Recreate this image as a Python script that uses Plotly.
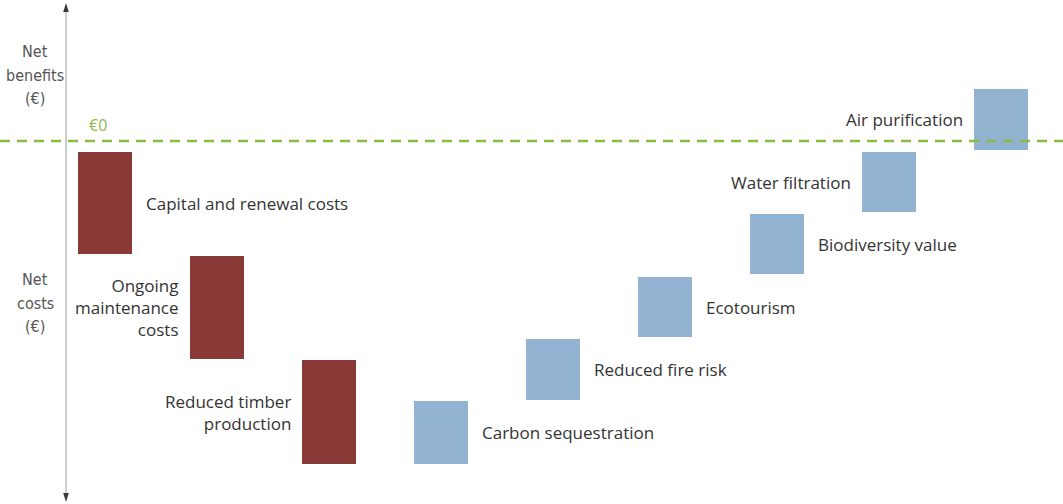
import plotly.graph_objects as go

# waterfall steps, values in arbitrary € units (0 = break-even line)
categories = [
    "Capital and renewal costs",
    "Ongoing<br>maintenance<br>costs",
    "Reduced timber<br>production",
    "Carbon sequestration",
    "Reduced fire risk",
    "Ecotourism",
    "Biodiversity value",
    "Water filtration",
    "Air purification",
]
tops = [-1.1, -11.5, -21.9, -26.0, -19.8, -13.6, -7.3, -1.1, 5.2]
bottoms = [-11.3, -21.8, -32.3, -32.3, -25.9, -19.6, -13.3, -7.1, -0.9]
kinds = ["cost", "cost", "cost", "benefit", "benefit", "benefit", "benefit", "benefit", "benefit"]
label_side = ["right", "left", "left", "right", "right", "right", "right", "left", "left"]
axis_labels = ["Net<br>benefits<br>(€)", "Net<br>costs<br>(€)"]

COLORS = {"cost": "#893a36", "benefit": "#91b3d1"}
W, H = 1063, 504
TEXT = "#333333"

x = list(range(len(categories)))
heights = [t - b for t, b in zip(tops, bottoms)]

fig = go.Figure()
fig.add_trace(go.Bar(
    x=x, y=heights, base=bottoms, width=0.482,
    marker=dict(color=[COLORS[k] for k in kinds], line=dict(width=0)),
    hoverinfo="skip", showlegend=False,
))

label_font = dict(family="Open Sans", size=17, color=TEXT)

# labels next to each bar
for i, (lab, t, b, side) in enumerate(zip(categories, tops, bottoms, label_side)):
    mid = (t + b) / 2
    if side == "right":
        fig.add_annotation(x=i + 0.241, y=mid, text=lab, showarrow=False, align="left",
                           xanchor="left", xshift=12, font=label_font)
    else:
        fig.add_annotation(x=i - 0.241, y=mid, text=lab, showarrow=False, align="right",
                           xanchor="right", xshift=-9, font=label_font)

# zero line
fig.add_hline(y=0, line=dict(color="#8cbb45", width=2.5, dash="10px,7px"))
fig.add_annotation(x=87 / W, xref="paper", y=0, text="€0", showarrow=False,
                   xanchor="left", yanchor="bottom", yshift=3,
                   font=dict(family="Open Sans", size=16, color="#8cbb45"))


def px(xp, yp):
    return f"{xp / W},{1 - yp / H}"


# vertical axis with arrows
ax = 66
fig.add_shape(type="line", xref="paper", yref="paper", x0=ax / W, x1=ax / W,
              y0=1 - 8 / H, y1=1 - 496 / H, line=dict(color="#cfcfcf", width=2))
for apex, base in [(3, 12), (502, 493)]:
    fig.add_shape(type="path", xref="paper", yref="paper",
                  path=f"M {px(ax, apex)} L {px(ax - 2.8, base)} L {px(ax + 2.8, base)} Z",
                  fillcolor="#3a3a3a", line=dict(width=0))

axis_font = dict(family="DejaVu Sans Condensed", size=16, color="#555555")
for lab, yc in zip(axis_labels, [75, 303]):
    for k, line in enumerate(lab.split("<br>")):
        fig.add_annotation(xref="paper", yref="paper", x=35 / W, y=1 - (yc + (k - 1) * 23.5) / H,
                           xanchor="center", yanchor="middle",
                           text=line, showarrow=False, font=axis_font)

fig.update_xaxes(range=[-105 / 112, (W - 105) / 112], visible=False)
fig.update_yaxes(range=[-(H - 141) / 10, 14.1], visible=False)
fig.update_layout(
    width=W, height=H,
    margin=dict(l=0, r=0, t=0, b=0),
    plot_bgcolor="white", paper_bgcolor="white",
    bargap=0,
)

fig.write_html("out.html", config={"displayModeBar": False},
               post_script="document.body.style.margin='0';")
